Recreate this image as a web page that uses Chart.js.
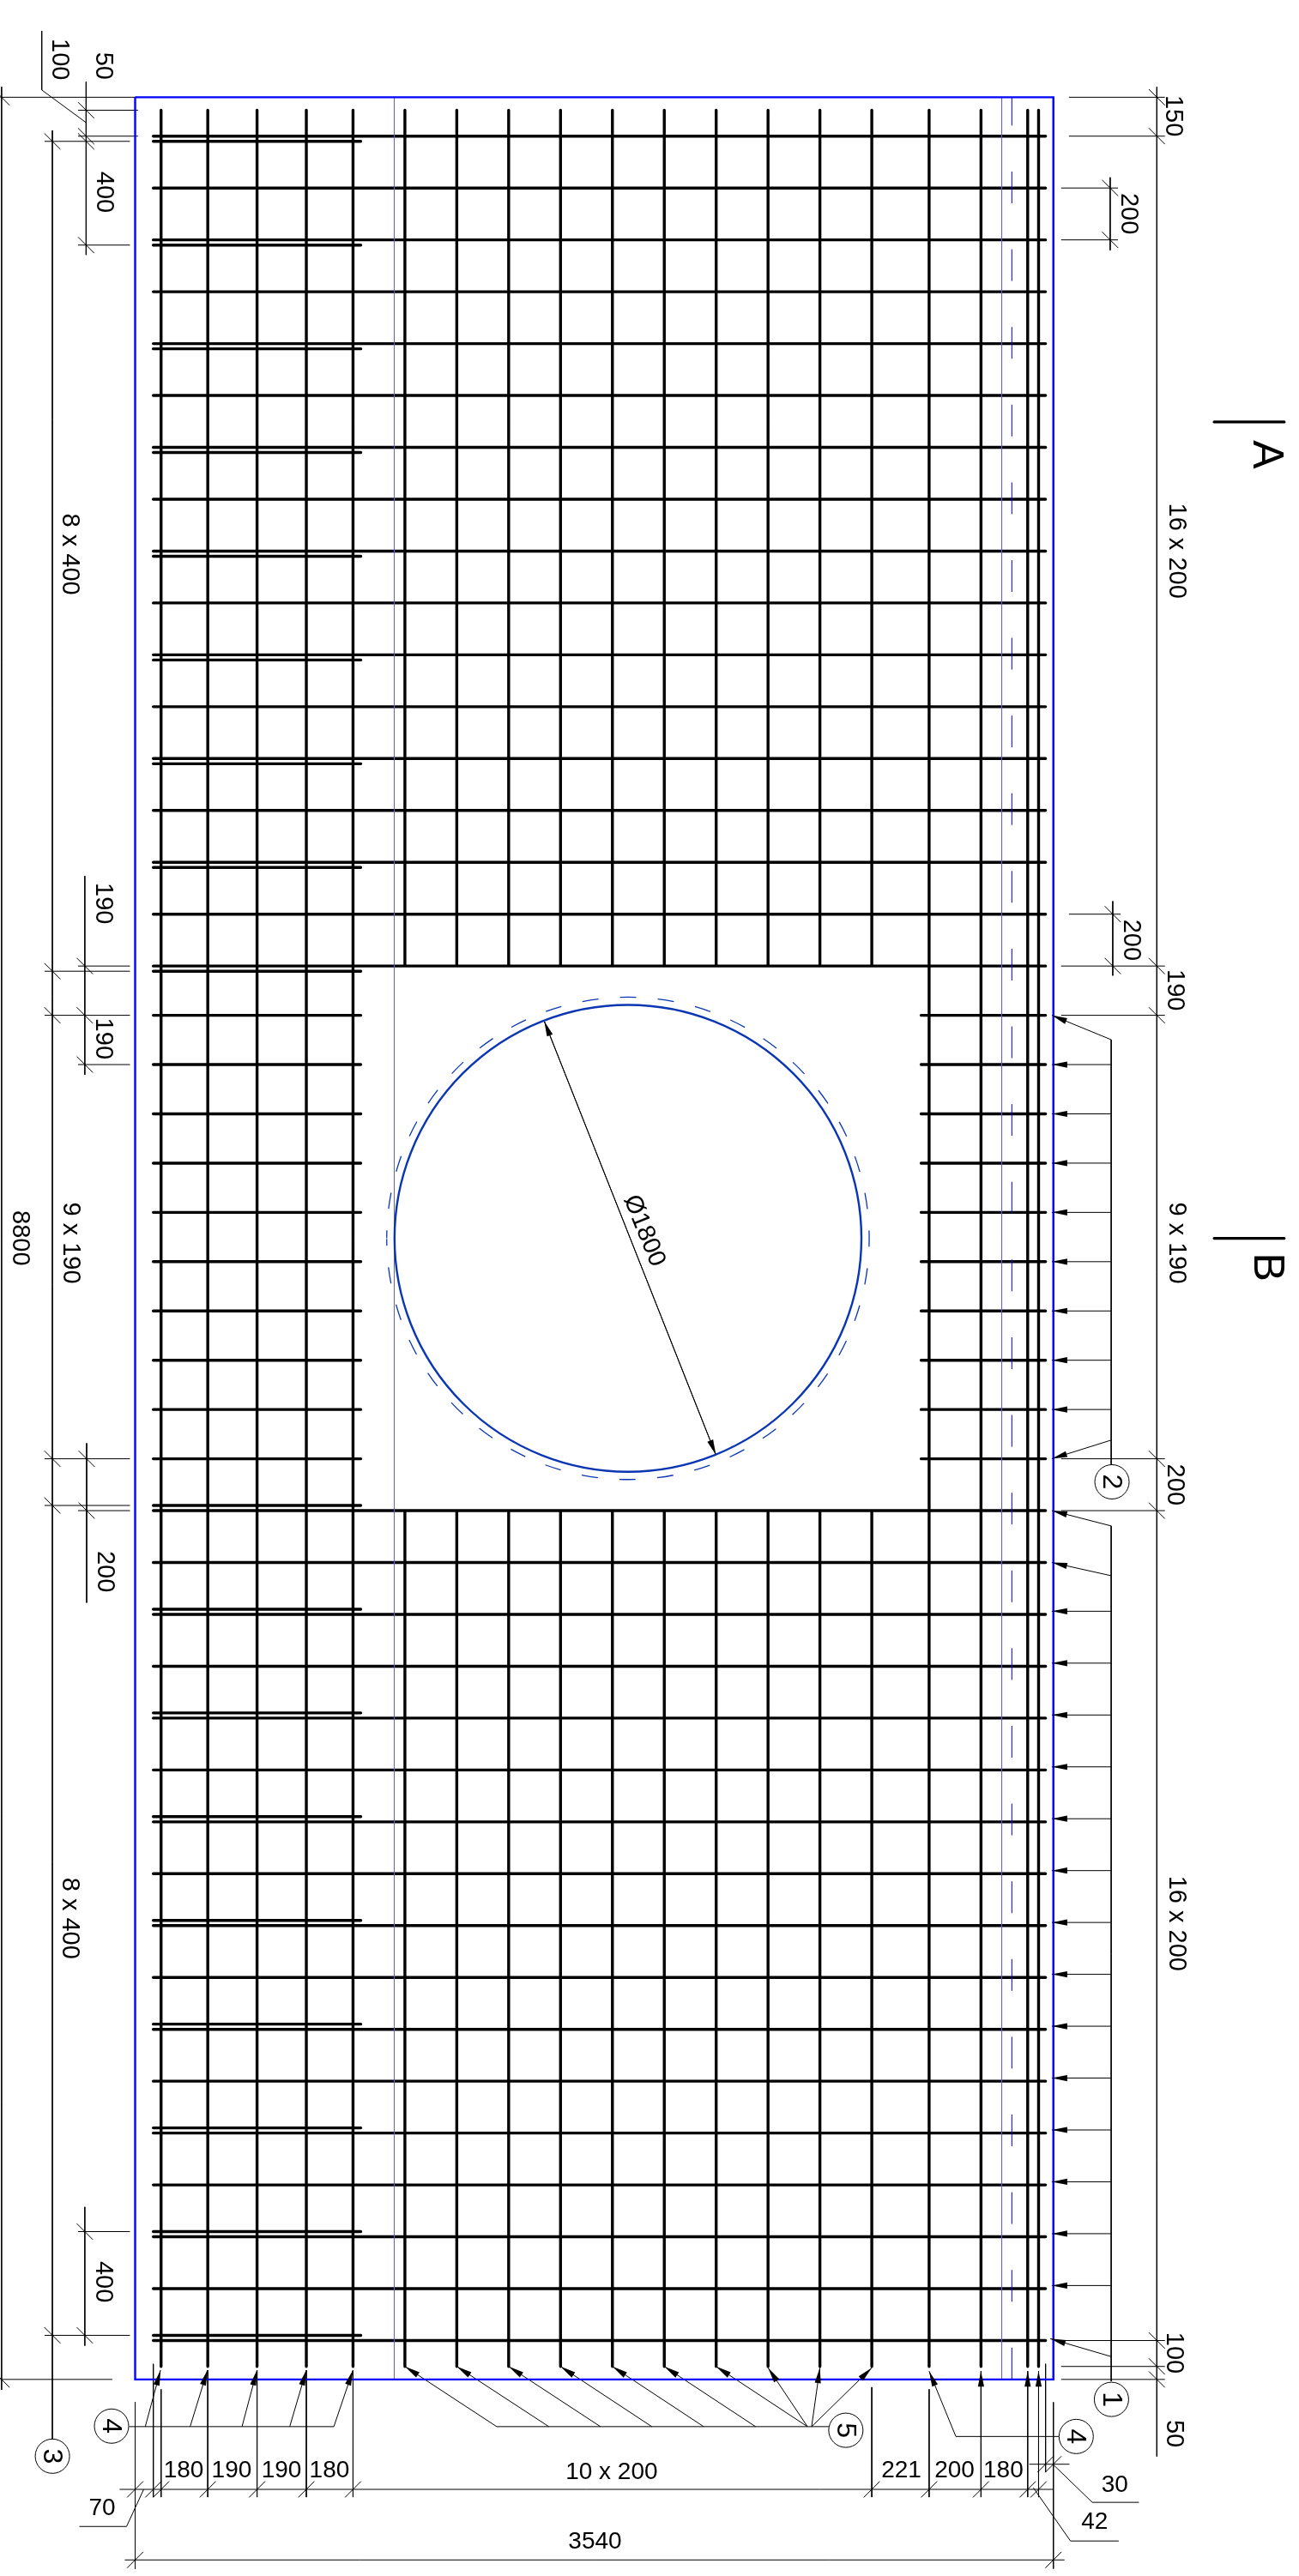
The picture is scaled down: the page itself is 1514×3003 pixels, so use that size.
<!DOCTYPE html>
<html>
<head>
<meta charset="utf-8">
<title>Slab reinforcement</title>
<script src="https://cdn.jsdelivr.net/npm/chart.js@4"></script>
<style>
html, body { margin: 0; padding: 0; background: #fff; }
canvas { display: block; }
</style>
</head>
<body>
<canvas id="plan" width="1514" height="3003"></canvas>
<script>
// everything below is in mm on the slab, origin top left corner
const slabWidth = 3540;
const slabHeight = 8800;

// bars
const fullBarYs = [150,350,550,750,950,1150,1350,1550,1750,1950,2150,2350,2550,2750,2950,3150,3350,
                   5450,5650,5850,6050,6250,6450,6650,6850,7050,7250,7450,7650,7850,8050,8250,8450,8650];
const leftBarYs = [170,570,970,1370,1770,2170,2570,2970,3370,5430,5830,6230,6630,7030,7430,7830,8230,8630];
const openingBarYs = [3540,3730,3920,4110,4300,4490,4680,4870,5060,5250];
const fullBarXs = [100,280,470,660,840,3061,3261,3441,3483];
const cutBarXs = [1040,1240,1440,1640,1840,2040,2240,2440,2640,2840];
const sectionMarkYs = [1252,4400];

// dimension lines: x or y, from, to, ticks
const dimsV = [
  [-515,-40,8840,[0,8800]],
  [-319,128,9030,[170,3370,3540,5250,5430,8630]],
  [-189,-60,608,[50,150,170,570]],
  [-194,3003,3769,[3350,3540,3730]],
  [-187,5190,5805,[5250,5450]],
  [-194,8135,8670,[8230,8630]],
  [3939,-40,9097,[0,150,3350,3540,5250,5450,8650,8750,8800]],
  [3759,309,590,[350,550]],
  [3769,3100,3387,[3150,3350]]
];
const dimsH = [
  [9224,-60,3540,[0,70,100,280,470,660,840,2840,3061,3261,3441,3483]],
  [9496,-40,3583,[0,3540]],
  [9127,3447,3602,[3510,3540]]
];

// extension lines: y, x1, x2
const extH = [
  [0,-520,11],[8800,-520,-88],
  [170,-349,-20],[3370,-349,-20],[3540,-349,-20],[5250,-349,-20],[5430,-349,-20],[8630,-349,-20],
  [50,-220,11],[150,-220,11],[570,-220,-20],[3350,-220,-20],[3730,-220,-20],[5450,-220,-20],[8230,-220,-20],
  [0,3600,3970],[150,3600,3970],[3350,3570,3970],[3540,3570,3970],[5250,3570,3970],[5450,3570,3970],
  [8650,3570,3970],[8750,3570,3970],[8800,3570,3970],
  [350,3570,3789],[550,3570,3789],[3150,3600,3799]
];
// extension lines: x, y1, y2
const extV = [
  [0,8888,9530],[3540,8888,9530],[70,8740,9254],[100,8838,9254],
  [280,8765,9254],[470,8765,9254],[660,8765,9254],[840,8765,9254],
  [2840,8830,9254],[3061,8838,9254],[3510,8740,9158]
];

// plain polylines
const polylines = [
  [[-360,-256],[-360,-28],[-190,97]],
  [[-215,9367],[-33,9367],[33,9224]],
  [[3538,9127],[3690,9274],[3870,9274]],
  [[3463,9218],[3606,9423],[3792,9423]],
  [[3763,3634],[3763,5272]],
  [[3763,5509],[3763,8807]],
  [[-23,8982],[766,8982]],
  [[1394,8982],[2674,8982]],
  [[3164,9020],[3561,9020]]
];

// leaders, first point is the arrow tip
const leader2Ys = [3730,3920,4110,4300,4490,4680,4870,5060];
const leader1Ys = [5838,6038,6238,6438,6638,6838,7038,7238,7438,7638,7838,8038,8238,8438];
const leaders = [
  [[1577,3562],[2239,5235]],
  [[2239,5235],[1577,3562]],
  [[3534,3540],[3763,3634]],
  [[3534,5250],[3763,5178]],
  [[3534,5450],[3763,5509]],
  [[3534,5650],[3763,5701]],
  [[3528,8643],[3763,8712]],
  [[98,8764],[39,8982]],
  [[279,8764],[212,8982]],
  [[470,8764],[412,8982]],
  [[660,8764],[596,8982]],
  [[840,8764],[766,8982]],
  [[1040,8750],[1394,8982]],
  [[1240,8750],[1595,8982]],
  [[1440,8750],[1794,8982]],
  [[1640,8750],[1992,8982]],
  [[1840,8750],[2192,8982]],
  [[2040,8750],[2392,8982]],
  [[2240,8750],[2592,8982]],
  [[2440,8755],[2592,8982]],
  [[2640,8755],[2608,8982]],
  [[2840,8755],[2608,8982]],
  [[3061,8768],[3164,9020]],
  [[3261,8768],[3261,9254]],
  [[3441,8768],[3441,9254]],
  [[3483,8768],[3483,9254]]
];

// balloons
const balloons = [
  {x:3764, y:8877, n:'1'},
  {x:3766, y:5339, n:'2'},
  {x:-319, y:9096, n:'3'},
  {x:-91, y:8980, n:'4'},
  {x:3628, y:9020, n:'4'},
  {x:2740, y:8996, n:'5'}
];

// texts: string, x, y, angle
const sideLabels = [
  ['100',-290,-146],['50',-122,-121],['400',-118,366],['8 x 400',-250,1762],
  ['190',-122,3109],['190',-122,3630],['9 x 190',-247,4418],['8800',-442,4399],
  ['200',-115,5685],['8 x 400',-250,7022],['400',-122,8424],
  ['150',4004,72],['200',3832,449],['16 x 200',4017,1749],['200',3843,3250],
  ['190',4010,3443],['9 x 190',4017,4418],['200',4010,5350],['16 x 200',4017,7042],
  ['100',4007,8698],['50',4007,9009]
];
const bottomLabels = [
  ['180',187,9149],['190',372,9149],['190',564,9149],['180',749,9149],['10 x 200',1837,9155],
  ['221',2954,9149],['200',3159,9149],['180',3347,9149],
  ['70',-127,9293],['30',3777,9205],['42',3699,9347],['3540',1773,9423]
];
const sectionLabels = [['A',4361,1378],['B',4364,4511]];
const holeLabel = ['Ø1800',1965,4370,68];

// opening
const holeX = 1900;
const holeY = 4400;
const holeR = 900;
const sleeveR = 930;
const thinBlueXs = [999,3341];
const dashBlueX = 3380;

function toPoints(segments) {
  const pts = [];
  segments.forEach(seg => {
    seg.forEach(p => pts.push({ x: p[0], y: p[1] }));
    pts.push({ x: null, y: null });
  });
  return pts;
}

function barSegments() {
  const segs = [];
  fullBarYs.forEach(y => segs.push([[70,y],[3510,y]]));
  leftBarYs.forEach(y => segs.push([[70,y],[870,y]]));
  openingBarYs.forEach(y => {
    segs.push([[70,y],[870,y]]);
    segs.push([[3030,y],[3510,y]]);
  });
  fullBarXs.forEach(x => segs.push([[x,50],[x,8750]]));
  cutBarXs.forEach(x => {
    segs.push([[x,50],[x,3350]]);
    segs.push([[x,5450],[x,8750]]);
  });
  sectionMarkYs.forEach(y => segs.push([[4160,y],[4430,y]]));
  return segs;
}

function thinSegments() {
  const t = 31;
  const segs = [];
  dimsV.forEach(d => {
    segs.push([[d[0],d[1]],[d[0],d[2]]]);
    d[3].forEach(y => segs.push([[d[0]-t,y-t],[d[0]+t,y+t]]));
  });
  dimsH.forEach(d => {
    segs.push([[d[1],d[0]],[d[2],d[0]]]);
    d[3].forEach(x => segs.push([[x-t,d[0]+t],[x+t,d[0]-t]]));
  });
  extH.forEach(e => segs.push([[e[1],e[0]],[e[2],e[0]]]));
  extV.forEach(e => segs.push([[e[0],e[1]],[e[0],e[2]]]));
  polylines.forEach(p => segs.push(p));
  leaders.forEach(l => segs.push(l));
  leader2Ys.forEach(y => segs.push([[3534,y],[3763,y]]));
  leader1Ys.forEach(y => segs.push([[3534,y],[3763,y]]));
  return segs;
}

function lineSet(segs, color, width, extra) {
  return Object.assign({
    type: 'scatter',
    data: toPoints(segs),
    showLine: true,
    spanGaps: false,
    pointRadius: 0,
    borderColor: color,
    borderWidth: width,
    tension: 0
  }, extra || {});
}

function drawHead(ctx, x1, y1, x2, y2) {
  const a = Math.atan2(y2 - y1, x2 - x1);
  ctx.save();
  ctx.translate(x1, y1);
  ctx.rotate(a);
  ctx.beginPath();
  ctx.moveTo(0, 0);
  ctx.lineTo(18, -3.6);
  ctx.lineTo(18, 3.6);
  ctx.closePath();
  ctx.fill();
  ctx.restore();
}

function drawText(ctx, x, y, str, angle, size) {
  ctx.save();
  ctx.translate(x, y);
  ctx.rotate(angle * Math.PI / 180);
  ctx.font = size + 'px "Liberation Sans", Arial, sans-serif';
  ctx.textAlign = 'center';
  ctx.textBaseline = 'middle';
  ctx.fillStyle = '#000';
  ctx.fillText(str, 0, 1);
  ctx.restore();
}

const drawingPlugin = {
  id: 'drawing',
  afterDatasetsDraw(chart) {
    const { ctx } = chart;
    const sx = chart.scales.x;
    const sy = chart.scales.y;
    const px = v => sx.getPixelForValue(v);
    const py = v => sy.getPixelForValue(v);
    const k = px(1) - px(0);

    // the opening
    ctx.save();
    ctx.strokeStyle = '#0a36b4';
    ctx.lineWidth = 2.4;
    ctx.beginPath();
    ctx.arc(px(holeX), py(holeY), holeR * k, 0, Math.PI * 2);
    ctx.stroke();
    ctx.lineWidth = 1.3;
    const sr = sleeveR * k;
    ctx.setLineDash([19, Math.PI * 2 * sr / 40 - 19]);
    ctx.lineDashOffset = 9.5;
    ctx.beginPath();
    ctx.arc(px(holeX), py(holeY), sr, Math.PI, Math.PI * 3);
    ctx.stroke();
    ctx.restore();

    // arrow heads
    ctx.save();
    ctx.fillStyle = '#000';
    leaders.forEach(l => drawHead(ctx, px(l[0][0]), py(l[0][1]), px(l[1][0]), py(l[1][1])));
    leader2Ys.forEach(y => drawHead(ctx, px(3534), py(y), px(3763), py(y)));
    leader1Ys.forEach(y => drawHead(ctx, px(3534), py(y), px(3763), py(y)));
    ctx.restore();

    // texts
    sideLabels.forEach(t => drawText(ctx, px(t[1]), py(t[2]), t[0], 90, 29));
    bottomLabels.forEach(t => drawText(ctx, px(t[1]), py(t[2]), t[0], 0, 28));
    sectionLabels.forEach(t => drawText(ctx, px(t[1]), py(t[2]), t[0], 90, 50));
    balloons.forEach(b => drawText(ctx, px(b.x), py(b.y), b.n, 90, 32));
    drawText(ctx, px(holeLabel[1]), py(holeLabel[2]), holeLabel[0], holeLabel[3], 29);
  }
};

new Chart(document.getElementById('plan'), {
  type: 'scatter',
  data: {
    datasets: [
      lineSet([[[0,0],[slabWidth,0],[slabWidth,slabHeight],[0,slabHeight],[0,0]]], '#0000ff', 2.4),
      lineSet(thinBlueXs.map(x => [[x,0],[x,slabHeight]]), '#5a5aff', 1),
      lineSet([[[dashBlueX,0],[dashBlueX,slabHeight]]], '#0000e0', 1, { borderDash: [37, 53.6], borderDashOffset: 4 }),
      lineSet(barSegments(), '#000', 3.4, { borderCapStyle: 'round' }),
      lineSet(thinSegments(), '#000', 1),
      {
        type: 'bubble',
        data: balloons.map(b => ({ x: b.x, y: b.y, r: 20 })),
        backgroundColor: 'rgba(0,0,0,0)',
        borderColor: '#000',
        borderWidth: 1
      }
    ]
  },
  options: {
    responsive: false,
    animation: false,
    devicePixelRatio: 1,
    layout: { padding: 0, autoPadding: false },
    clip: false,
    scales: {
      x: { type: 'linear', display: false, min: -521, max: 4487 },
      y: { type: 'linear', display: false, min: -375, max: 9558, reverse: true }
    },
    plugins: { legend: { display: false }, tooltip: { enabled: false } },
    events: []
  },
  plugins: [drawingPlugin]
});
</script>
</body>
</html>
